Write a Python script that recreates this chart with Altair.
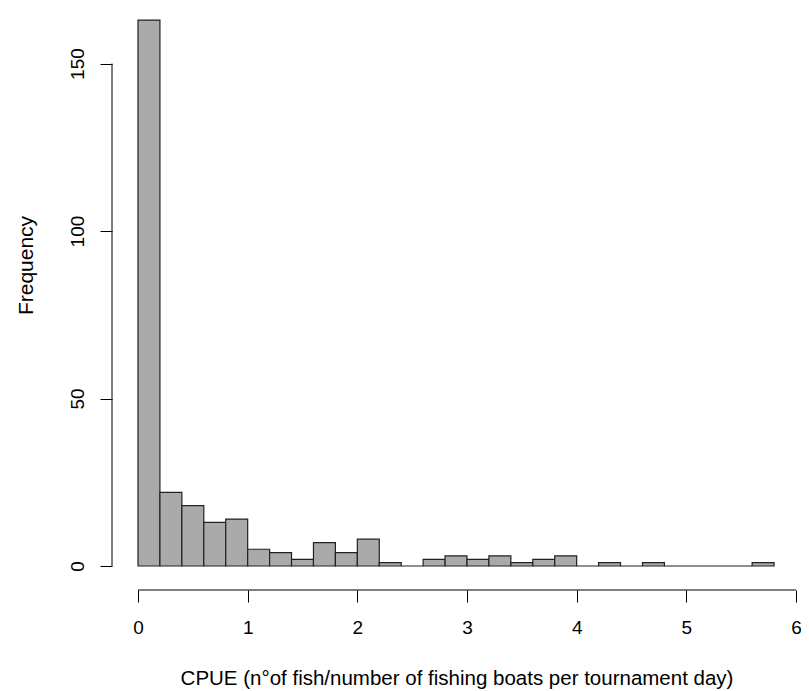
import altair as alt
import pandas as pd

# Histogram bins (width 0.2) and counts
bin_start = [0.0, 0.2, 0.4, 0.6, 0.8, 1.0, 1.2, 1.4, 1.6, 1.8, 2.0, 2.2, 2.4, 2.6, 2.8,
             3.0, 3.2, 3.4, 3.6, 3.8, 4.0, 4.2, 4.4, 4.6, 4.8, 5.0, 5.2, 5.4, 5.6]
bin_end = [0.2, 0.4, 0.6, 0.8, 1.0, 1.2, 1.4, 1.6, 1.8, 2.0, 2.2, 2.4, 2.6, 2.8, 3.0,
           3.2, 3.4, 3.6, 3.8, 4.0, 4.2, 4.4, 4.6, 4.8, 5.0, 5.2, 5.4, 5.6, 5.8]
counts = [163, 22, 18, 13, 14, 5, 4, 2, 7, 4, 8, 1, 0, 2, 3,
          2, 3, 1, 2, 3, 0, 1, 0, 1, 0, 0, 0, 0, 1]

x_ticks = [0, 1, 2, 3, 4, 5, 6]
y_ticks = [0, 50, 100, 150]

df = pd.DataFrame({"start": bin_start, "end": bin_end, "count": counts})
xaxis_df = pd.DataFrame({"a": [x_ticks[0]], "b": [x_ticks[-1]]})
yaxis_df = pd.DataFrame({"a": [y_ticks[0]], "b": [y_ticks[-1]]})

W, H = 689, 556
FONT = "Liberation Sans"
XOFF = 24

xscale = alt.Scale(domain=[-0.2371, 6.0456], nice=False, zero=False)
yscale = alt.Scale(domain=[0, 166], nice=False, zero=False)

bars = alt.Chart(df).mark_rect(fill="#AAAAAA", stroke="#222222", strokeWidth=1.2).encode(
    x=alt.X("start:Q", scale=xscale,
            axis=alt.Axis(values=x_ticks, format="d", domain=False, grid=False,
                          tickSize=12, tickColor="black", tickWidth=1,
                          offset=XOFF, labelFont=FONT, labelFontSize=19,
                          labelColor="black", labelPadding=16,
                          title="CPUE (n°of fish/number of fishing boats per tournament day)",
                          titleFont=FONT, titleFontSize=20.5, titleFontWeight="normal",
                          titleColor="black", titlePadding=31)),
    x2="end:Q",
    y=alt.Y("count:Q", scale=yscale,
            axis=alt.Axis(values=y_ticks, format="d", domain=False, grid=False,
                          tickSize=12, tickColor="black", tickWidth=1,
                          labelAngle=270, labelAlign="center", labelBaseline="alphabetic",
                          labelFont=FONT, labelFontSize=19, labelColor="black",
                          labelPadding=17,
                          title="Frequency", titleFont=FONT, titleFontSize=21,
                          titleFontWeight="normal", titleColor="black",
                          titleAngle=270, titleAlign="center", titleBaseline="alphabetic",
                          titleX=-80, titleY=255)),
    y2=alt.datum(0),
)

xline = alt.Chart(xaxis_df).mark_rule(color="black", strokeWidth=1).encode(
    x=alt.X("a:Q", scale=xscale), x2="b:Q", y=alt.value(H + XOFF)
)
yline = alt.Chart(yaxis_df).mark_rule(color="black", strokeWidth=1).encode(
    y=alt.Y("a:Q", scale=yscale), y2="b:Q", x=alt.value(0)
)

chart = alt.layer(bars, xline, yline).properties(
    width=W, height=H,
    autosize=alt.AutoSizeParams(type="none"),
    padding={"left": 104, "top": 2, "right": 0, "bottom": 125},
    background="white",
).configure_view(stroke=None)

chart.save("out.html", embed_options={"renderer": "svg", "actions": False})
